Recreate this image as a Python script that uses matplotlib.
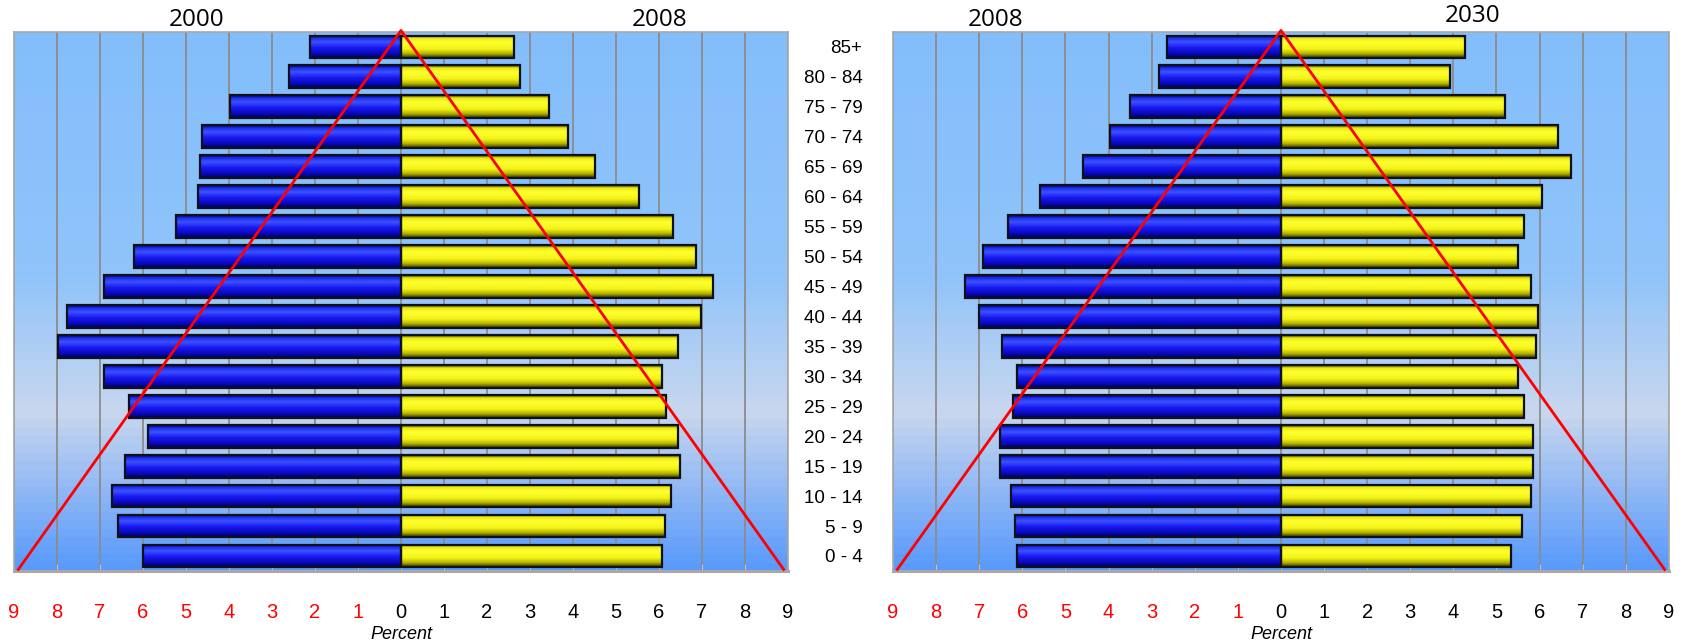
import matplotlib
matplotlib.use("Agg")
import matplotlib.pyplot as plt
import numpy as np
from matplotlib.colors import LinearSegmentedColormap

plt.rcParams["font.family"] = ["Liberation Sans", "DejaVu Sans"]

# age groups, bottom to top
ages = ["0 - 4", "5 - 9", "10 - 14", "15 - 19", "20 - 24", "25 - 29", "30 - 34",
        "35 - 39", "40 - 44", "45 - 49", "50 - 54", "55 - 59", "60 - 64",
        "65 - 69", "70 - 74", "75 - 79", "80 - 84", "85+"]

# left panel: 2000 vs 2008 (percent of population)
pct_2000 = [6.00, 6.59, 6.73, 6.42, 5.89, 6.33, 6.91, 7.98, 7.76,
            6.91, 6.22, 5.24, 4.72, 4.67, 4.62, 3.98, 2.61, 2.12]
pct_2008_a = [6.08, 6.13, 6.27, 6.48, 6.44, 6.17, 6.08, 6.44, 6.97,
              7.25, 6.85, 6.32, 5.53, 4.52, 3.89, 3.44, 2.77, 2.62]

# right panel: 2008 vs 2030
pct_2008_b = [6.12, 6.17, 6.27, 6.52, 6.51, 6.22, 6.13, 6.47, 7.01,
              7.34, 6.92, 6.33, 5.58, 4.58, 3.96, 3.50, 2.83, 2.64]
pct_2030 = [5.33, 5.59, 5.79, 5.84, 5.84, 5.64, 5.51, 5.91, 5.96,
            5.79, 5.51, 5.64, 6.05, 6.72, 6.42, 5.20, 3.92, 4.28]

# red reference triangle (x in percent, y in age-row units)
guide_x = [-8.9, 0, 8.9]
guide_y = [-0.45, 17.55, -0.45]

ticks = list(range(-9, 10))

bg_cmap = LinearSegmentedColormap.from_list(
    "bg", [(0.0, "#5a9afc"), (0.29, "#c8d7ee"), (0.55, "#90c4fa"), (1.0, "#83befc")])
blue_cmap = LinearSegmentedColormap.from_list(
    "blue", [(0.0, "#00005a"), (0.12, "#1a2cf0"), (0.3, "#3c52ff"),
             (0.55, "#1818f2"), (0.82, "#0808b8"), (1.0, "#000050")])
yellow_cmap = LinearSegmentedColormap.from_list(
    "yellow", [(0.0, "#3a3a00"), (0.12, "#e8e810"), (0.3, "#ffff30"),
               (0.6, "#f4f418"), (0.82, "#b0b000"), (1.0, "#2a2a00")])
grad = np.linspace(0, 1, 64).reshape(-1, 1)
BAR_H = 0.76


def gradient_barh(ax, values, sign, cmap):
    y = np.arange(len(values))
    widths = [sign * v for v in values]
    bars = ax.barh(y, widths, height=BAR_H, color="none",
                   edgecolor="#101018", linewidth=1.6, zorder=4)
    for patch, yi, w in zip(bars, y, widths):
        x0, x1 = sorted((0, w))
        im = ax.imshow(grad, cmap=cmap, aspect="auto", zorder=3,
                       extent=[x0, x1, yi - BAR_H / 2, yi + BAR_H / 2])
        im.set_clip_path(patch)


def setup(ax, left_vals, right_vals, show_ages):
    ax.imshow(grad[::-1], cmap=bg_cmap, aspect="auto", extent=[0, 1, 0, 1],
              transform=ax.transAxes, zorder=0)
    gradient_barh(ax, left_vals, -1, blue_cmap)
    gradient_barh(ax, right_vals, 1, yellow_cmap)
    ax.plot(guide_x, guide_y, color="#ff0000", lw=2, zorder=6, clip_on=False)

    ax.set_xlim(-9, 9)
    ax.set_ylim(-0.5, len(ages) - 0.5)
    ax.set_xticks(ticks)
    ax.set_xticklabels([str(abs(t)) for t in ticks], fontsize=14.5)
    for lab, t in zip(ax.get_xticklabels(), ticks):
        lab.set_color("#ff0000" if t < 0 else "black")
    ax.tick_params(axis="x", direction="in", length=5, color="#c0c0c0", pad=23)
    ax.grid(axis="x", color="#8c8c8c", lw=1.3, zorder=1)
    ax.set_yticks(range(len(ages)))
    if show_ages:
        ax.set_yticklabels(ages, fontsize=13.5)
        ax.tick_params(axis="y", length=0, pad=22)
    else:
        ax.set_yticklabels([])
        ax.tick_params(axis="y", length=0)
    for name, sp in ax.spines.items():
        sp.set_color("#a8a8a8")
        sp.set_linewidth(2.2 if name == "bottom" else 1.2)
    ax.set_xlabel("Percent", style="italic", fontsize=13, labelpad=3)


fig = plt.figure(figsize=(16.88, 6.44), dpi=100)
ax1 = fig.add_axes([0.0083, 0.1134, 0.4585, 0.8370])
ax2 = fig.add_axes([0.5290, 0.1134, 0.4597, 0.8370])
setup(ax1, pct_2000, pct_2008_a, False)
setup(ax2, pct_2008_b, pct_2030, True)

title_font = dict(fontsize=17.5, family=["Open Sans", "DejaVu Sans"], va="center", ha="center")
fig.text(197 / 1688, 1 - 20 / 644, "2000", **title_font)
fig.text(660 / 1688, 1 - 20 / 644, "2008", **title_font)
fig.text(996 / 1688, 1 - 20 / 644, "2008", **title_font)
fig.text(1473 / 1688, 1 - 16 / 644, "2030", **title_font)

fig.savefig("out.png", dpi=100)
